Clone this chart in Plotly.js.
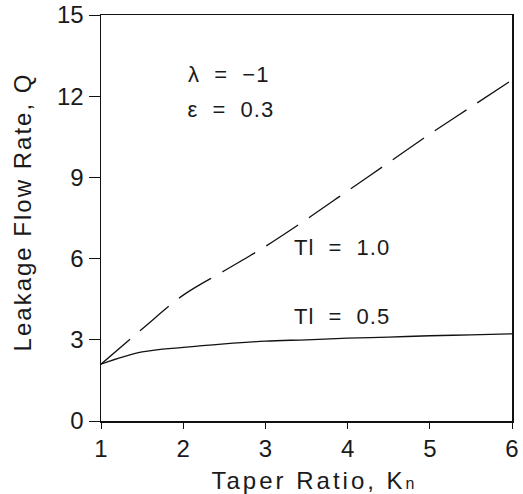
<!DOCTYPE html>
<html><head><meta charset="utf-8">
<script src="https://cdn.plot.ly/plotly-3.0.1.min.js"></script>
<style>html,body{margin:0;padding:0;background:#fff}</style>
</head><body><div id="chart" style="width:523px;height:494px"></div>
<script>
const taperRatio = [1, 1.5, 2, 2.5, 3, 3.5, 4, 4.5, 5, 5.5, 6];
const q_Tl10 = [2.1, 3.4, 4.65, 5.55, 6.45, 7.45, 8.5, 9.55, 10.6, 11.6, 12.6];
const q_Tl05 = [2.1, 2.55, 2.72, 2.85, 2.95, 3.0, 3.06, 3.1, 3.15, 3.18, 3.22];
const xTicks = [1, 2, 3, 4, 5, 6];
const yTicks = [0, 3, 6, 9, 12, 15];
const annotTexts = ["λ  =  −1", "ε  =  0.3", "Tl  =  1.0", "Tl  =  0.5"];

const font = {family: "Liberation Sans, Arial, sans-serif", color: "#1a1a1a"};
const traces = [
  {x: taperRatio, y: q_Tl10, mode: "lines", line: {color: "#111", width: 1.3, dash: "38px,13px", shape: "spline"}},
  {x: taperRatio, y: q_Tl05, mode: "lines", line: {color: "#111", width: 1.3, shape: "spline"}}
];
const layout = {
  width: 523, height: 494,
  margin: {l: 101, r: 11, t: 15, b: 73},
  paper_bgcolor: "#fff", plot_bgcolor: "#fff",
  showlegend: false,
  font: Object.assign({size: 22}, font),
  xaxis: {range: [1, 6], tickvals: xTicks, ticktext: xTicks.map(String), ticks: "outside", ticklen: 6, tickcolor: "#111",
          showline: true, linecolor: "#111", linewidth: 1.5, mirror: true, showgrid: false, zeroline: false,
          tickfont: Object.assign({size: 24}, font),
          title: {text: "Taper Ratio, K<span style='font-size:16px'>n</span>", font: Object.assign({size: 24}, font), standoff: 23}},
  yaxis: {range: [0, 15], tickvals: yTicks, ticktext: yTicks.map(String), ticks: "outside", ticklen: 11, tickcolor: "#111",
          showline: true, linecolor: "#111", linewidth: 1.5, mirror: true, showgrid: false, zeroline: false,
          tickfont: Object.assign({size: 24}, font),
          title: {text: "Leakage Flow Rate, Q", font: Object.assign({size: 24}, font), standoff: 18}},
  annotations: [
    {x: 2.08, y: 12.8, text: annotTexts[0], xanchor: "left", showarrow: false, font: Object.assign({size: 22}, font)},
    {x: 2.08, y: 11.5, text: annotTexts[1], xanchor: "left", showarrow: false, font: Object.assign({size: 22}, font)},
    {x: 3.39, y: 6.4, text: annotTexts[2], xanchor: "left", showarrow: false, font: Object.assign({size: 22}, font)},
    {x: 3.39, y: 3.85, text: annotTexts[3], xanchor: "left", showarrow: false, font: Object.assign({size: 22}, font)}
  ]
};
Plotly.newPlot("chart", traces, layout, {displayModeBar: false, staticPlot: true}).then(function (gd) {
  gd.querySelectorAll(".g-xtitle text").forEach(function (t) {
    t.style.letterSpacing = "3px";
    t.setAttribute("x", parseFloat(t.getAttribute("x")) + 8);
  });
  gd.querySelectorAll(".g-ytitle text").forEach(function (t) {
    t.style.letterSpacing = "2px";
    t.setAttribute("x", parseFloat(t.getAttribute("x")) + 6);
  });
  gd.querySelectorAll(".annotation-text").forEach(function (t) { t.style.letterSpacing = "1px"; });
});
</script></body></html>
